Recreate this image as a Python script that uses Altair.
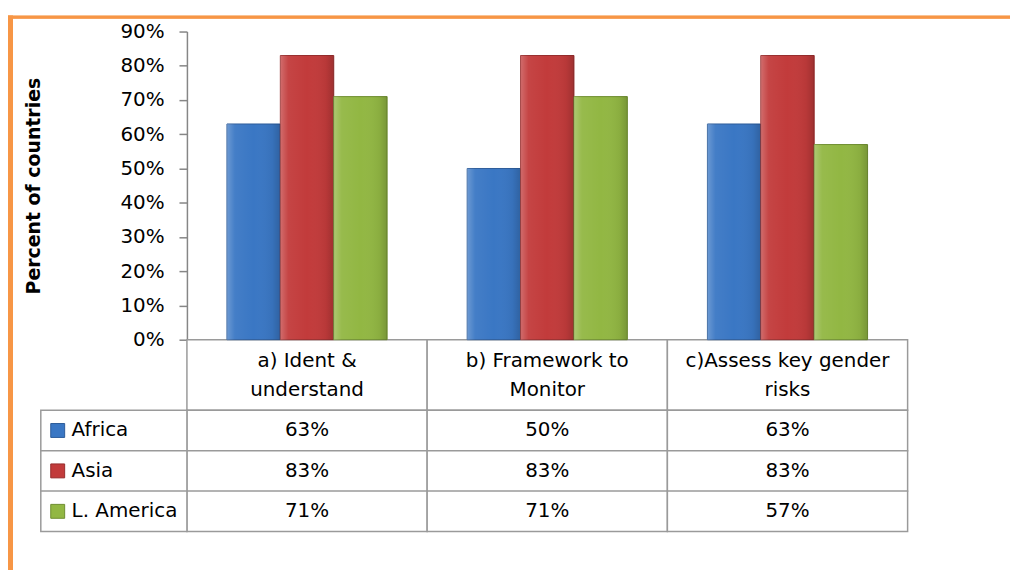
import altair as alt
import pandas as pd

CATEGORIES = ["a) Ident & understand", "b) Framework to Monitor", "c)Assess key gender risks"]
HEADER_LABELS = ["a) Ident &\nunderstand", "b) Framework to\nMonitor", "c)Assess key gender\nrisks"]
SERIES = ["Africa", "Asia", "L. America"]
AFRICA = [0.63, 0.50, 0.63]
ASIA = [0.83, 0.83, 0.83]
L_AMERICA = [0.71, 0.71, 0.57]
Y_TICKS = [0.0, 0.1, 0.2, 0.3, 0.4, 0.5, 0.6, 0.7, 0.8, 0.9]

COLORS = ["#3A77C4", "#C23B3B", "#92B743"]
STROKES = ["#2C5C99", "#962C2C", "#6F8E30"]
FONT = "DejaVu Sans"
GRID = "#9A9A9A"
ORANGE = "#F79646"

rows = []
for s, vals in zip(SERIES, [AFRICA, ASIA, L_AMERICA]):
    for c, v in zip(CATEGORIES, vals):
        rows.append({"cat": c, "series": s, "value": v})
df = pd.DataFrame(rows)
hdr = pd.DataFrame({"cat": CATEGORIES, "label": HEADER_LABELS})
ser = pd.DataFrame({"series": SERIES})

W, H = 725, 310
HEADER_H = 71
TABLE_BOTTOM = 503
LABEL_COL = -147

x_scale = alt.Scale(domain=CATEGORIES, paddingInner=0, paddingOuter=0)
off_scale = alt.Scale(domain=SERIES, paddingInner=0, paddingOuter=0.75)
color_scale = alt.Scale(domain=SERIES, range=COLORS)
stroke_scale = alt.Scale(domain=SERIES, range=STROKES)
table_y = alt.Scale(domain=SERIES, range=[H + HEADER_H, TABLE_BOTTOM], paddingInner=0, paddingOuter=0)

base = alt.Chart(df)

bars = base.mark_bar(strokeWidth=1).encode(
    x=alt.X("cat:N", scale=x_scale, axis=None, sort=CATEGORIES),
    xOffset=alt.XOffset("series:N", scale=off_scale),
    y=alt.Y("value:Q", scale=alt.Scale(domain=[0, 0.9], nice=False),
            axis=alt.Axis(values=Y_TICKS, format=".0%", grid=False, title="Percent of countries",
                          labelFont=FONT, labelFontSize=20, labelColor="#000000", labelPadding=15,
                          tickSize=8, tickColor="#868686", tickWidth=1.5,
                          domainColor="#868686", domainWidth=1.5,
                          titleFont=FONT, titleFontSize=19, titleFontWeight="bold", titleColor="#000000",
                          titleX=-148, titleBaseline="alphabetic")),
    color=alt.Color("series:N", scale=color_scale, legend=None),
    stroke=alt.Stroke("series:N", scale=stroke_scale, legend=None),
)

shade = base.mark_bar(
    color=alt.Gradient(
        gradient="linear", x1=0, x2=1, y1=0, y2=0,
        stops=[alt.GradientStop(color="rgba(255,255,255,0.25)", offset=0),
               alt.GradientStop(color="rgba(255,255,255,0.05)", offset=0.15),
               alt.GradientStop(color="rgba(255,255,255,0)", offset=0.5),
               alt.GradientStop(color="rgba(0,0,0,0.05)", offset=0.85),
               alt.GradientStop(color="rgba(0,0,0,0.18)", offset=1)])
).encode(
    x=alt.X("cat:N", scale=x_scale, axis=None, sort=CATEGORIES),
    xOffset=alt.XOffset("series:N", scale=off_scale),
    y=alt.Y("value:Q", scale=alt.Scale(domain=[0, 0.9], nice=False), axis=None),
)

cells = base.mark_rect(fill="white", stroke=GRID, strokeWidth=1.5).encode(
    x=alt.X("cat:N", scale=x_scale, axis=None),
    y=alt.Y("series:N", scale=table_y, axis=None),
)

label_cells = alt.Chart(ser).mark_rect(fill="white", stroke=GRID, strokeWidth=1.5).encode(
    x=alt.value(LABEL_COL), x2=alt.value(0),
    y=alt.Y("series:N", scale=table_y, axis=None),
)

header_cells = alt.Chart(hdr).mark_rect(fill="white", stroke=GRID, strokeWidth=1.5).encode(
    x=alt.X("cat:N", scale=x_scale, axis=None),
    y=alt.value(H), y2=alt.value(H + HEADER_H),
)

header_text = alt.Chart(hdr).mark_text(font=FONT, fontSize=20, color="#000000", lineBreak="\n",
                                       lineHeight=30, baseline="middle").encode(
    x=alt.X("cat:N", scale=x_scale, axis=None),
    y=alt.value(H + 21),
    text="label:N",
)

value_text = base.mark_text(font=FONT, fontSize=20, color="#000000", baseline="middle").encode(
    x=alt.X("cat:N", scale=x_scale, axis=None),
    y=alt.Y("series:N", scale=table_y, axis=None),
    text=alt.Text("value:Q", format=".0%"),
)

label_text = alt.Chart(ser).mark_text(font=FONT, fontSize=20, color="#000000", align="left",
                                      baseline="middle").encode(
    x=alt.value(-116),
    y=alt.Y("series:N", scale=table_y, axis=None),
    text="series:N",
)

squares = alt.Chart(ser).mark_square(size=196, opacity=1, strokeWidth=1).encode(
    x=alt.value(-130),
    y=alt.Y("series:N", scale=table_y, axis=None),
    color=alt.Color("series:N", scale=color_scale, legend=None),
    stroke=alt.Stroke("series:N", scale=stroke_scale, legend=None),
)

border_left = alt.Chart(ser).mark_rule(color=ORANGE, strokeWidth=5).encode(
    x=alt.value(-177.5), y=alt.value(-16), y2=alt.value(560),
)
border_top = alt.Chart(ser).mark_rule(color=ORANGE, strokeWidth=3).encode(
    x=alt.value(-180), x2=alt.value(830), y=alt.value(-14.5),
)

chart = alt.layer(
    header_cells, cells, label_cells, bars, shade, header_text, value_text, label_text, squares,
    border_left, border_top,
).resolve_scale(y="independent").properties(
    width=W, height=H,
    background="white",
    autosize=alt.AutoSizeParams(type="none"),
    padding={"left": 180, "top": 22, "right": 103, "bottom": 230},
).configure_view(stroke=None)

chart.save("out.html", embed_options={"renderer": "svg", "actions": False})
